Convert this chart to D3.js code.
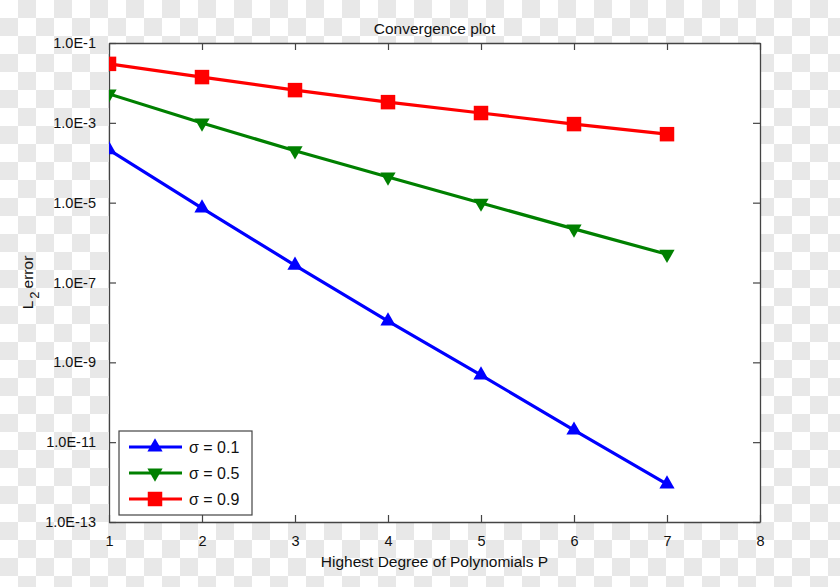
<!DOCTYPE html>
<html>
<head>
<meta charset="utf-8">
<script src="https://cdn.jsdelivr.net/npm/d3@7"></script>
<style>
  html, body { margin: 0; padding: 0; background: #fff; }
  svg { display: block; font-family: "Liberation Sans", Arial, sans-serif; }
</style>
</head>
<body>
<div id="chart"></div>
<script>
// Data
const degrees = [1, 2, 3, 4, 5, 6, 7];
const errSigma01 = [2.1e-4, 7.3e-6, 2.7e-7, 1.08e-8, 4.8e-10, 2.0e-11, 8.9e-13];
const errSigma05 = [5.3e-3, 9.9e-4, 2.0e-4, 4.4e-5, 9.8e-6, 2.2e-6, 5.1e-7];
const errSigma09 = [3.0e-2, 1.4e-2, 6.6e-3, 3.3e-3, 1.76e-3, 9.3e-4, 5.2e-4];
const seriesNames = ["σ = 0.1", "σ = 0.5", "σ = 0.9"];
const xTicks = [1, 2, 3, 4, 5, 6, 7, 8];
const yTicks = [1e-1, 1e-3, 1e-5, 1e-7, 1e-9, 1e-11, 1e-13];

// Layout
const width = 840, height = 587;
const plot = { left: 109, right: 760, top: 43, bottom: 522 };
const axisColor = "#444";

const series = [
  { name: seriesNames[0], values: errSigma01, color: "#0000ff", marker: "up" },
  { name: seriesNames[1], values: errSigma05, color: "#008000", marker: "down" },
  { name: seriesNames[2], values: errSigma09, color: "#ff0000", marker: "square" }
];

const svg = d3.select("#chart").append("svg")
  .attr("width", width)
  .attr("height", height);

// checkerboard background (transparency placeholder in the reference)
const defs = svg.append("defs");
const pat = defs.append("pattern")
  .attr("id", "checker")
  .attr("width", 36).attr("height", 36)
  .attr("patternUnits", "userSpaceOnUse");
pat.append("rect").attr("width", 36).attr("height", 36).attr("fill", "#ffffff");
pat.append("rect").attr("x", 18).attr("y", 0).attr("width", 18).attr("height", 18).attr("fill", "#e8e8e8");
pat.append("rect").attr("x", 0).attr("y", 18).attr("width", 18).attr("height", 18).attr("fill", "#e8e8e8");
svg.append("rect").attr("width", width).attr("height", height).attr("fill", "url(#checker)");

defs.append("clipPath").attr("id", "plotClip")
  .append("rect")
  .attr("x", plot.left).attr("y", plot.top)
  .attr("width", plot.right - plot.left)
  .attr("height", plot.bottom - plot.top);

// Scales
const x = d3.scaleLinear().domain([1, 8]).range([plot.left, plot.right]);
const y = d3.scaleLog().domain([1e-13, 1e-1]).range([plot.bottom, plot.top]);

// plot area
svg.append("rect")
  .attr("x", plot.left).attr("y", plot.top)
  .attr("width", plot.right - plot.left)
  .attr("height", plot.bottom - plot.top)
  .attr("fill", "#fff");

const fmtE = d => "1.0E" + Math.round(Math.log10(d));

// Axes (ticks pointing inward)
const gLeft = svg.append("g")
  .attr("transform", `translate(${plot.left},0)`)
  .call(d3.axisLeft(y).tickValues(yTicks).tickFormat(fmtE)
    .tickSizeInner(-7).tickSizeOuter(0).tickPadding(13));
const gBottom = svg.append("g")
  .attr("transform", `translate(0,${plot.bottom})`)
  .call(d3.axisBottom(x).tickValues(xTicks).tickFormat(d3.format("d"))
    .tickSizeInner(-7).tickSizeOuter(0).tickPadding(14));
const gRight = svg.append("g")
  .attr("transform", `translate(${plot.right},0)`)
  .call(d3.axisRight(y).tickValues(yTicks).tickFormat("")
    .tickSizeInner(-7).tickSizeOuter(0));
const gTop = svg.append("g")
  .attr("transform", `translate(0,${plot.top})`)
  .call(d3.axisTop(x).tickValues(xTicks).tickFormat("")
    .tickSizeInner(-7).tickSizeOuter(0));

[gLeft, gBottom, gRight, gTop].forEach(g => {
  g.select(".domain").attr("stroke", axisColor).attr("stroke-width", 1.3);
  g.selectAll(".tick line").attr("stroke", axisColor).attr("stroke-width", 1.2);
  g.selectAll("text")
    .attr("fill", "#111")
    .style("font-size", "14.5px")
    .style("font-family", '"Liberation Sans", Arial, sans-serif');
});

// Marker helper
function markerPath(kind) {
  if (kind === "square") return d3.symbol().type(d3.symbolSquare).size(210)();
  return d3.symbol().type(d3.symbolTriangle).size(100)();
}
function markerTransform(kind, px, py) {
  return kind === "down" ? `translate(${px},${py}) rotate(180)` : `translate(${px},${py})`;
}

// Lines and markers
const line = d3.line()
  .x((d, i) => x(degrees[i]))
  .y(d => y(d));

const gData = svg.append("g").attr("clip-path", "url(#plotClip)");
series.forEach(s => {
  gData.append("path")
    .datum(s.values)
    .attr("fill", "none")
    .attr("stroke", s.color)
    .attr("stroke-width", 3.2)
    .attr("d", line);
  gData.selectAll(null)
    .data(s.values)
    .enter()
    .append("path")
    .attr("d", markerPath(s.marker))
    .attr("transform", (d, i) => markerTransform(s.marker, x(degrees[i]), y(d)))
    .attr("fill", s.color);
});

// Title and axis labels
svg.append("text")
  .attr("x", (plot.left + plot.right) / 2)
  .attr("y", 34)
  .attr("text-anchor", "middle")
  .style("font-size", "15.5px")
  .attr("fill", "#111")
  .text("Convergence plot");

svg.append("text")
  .attr("x", (plot.left + plot.right) / 2)
  .attr("y", 567)
  .attr("text-anchor", "middle")
  .style("font-size", "15.5px")
  .attr("fill", "#111")
  .text("Highest Degree of Polynomials P");

const yLabel = svg.append("text")
  .attr("transform", `translate(33,${(plot.top + plot.bottom) / 2}) rotate(-90)`)
  .attr("text-anchor", "middle")
  .style("font-size", "15.5px")
  .attr("fill", "#111");
yLabel.append("tspan").text("L");
yLabel.append("tspan").attr("dx", 2).attr("dy", 6).style("font-size", "13px").text("2");
yLabel.append("tspan").attr("dx", 3).attr("dy", -6).text("error");

// Legend
const legend = { x: 119, y: 431, w: 133, h: 84, rowGap: 26 };
svg.append("rect")
  .attr("x", legend.x).attr("y", legend.y)
  .attr("width", legend.w).attr("height", legend.h)
  .attr("fill", "#fff")
  .attr("stroke", axisColor)
  .attr("stroke-width", 1.2);

series.forEach((s, i) => {
  const ly = legend.y + 16 + i * legend.rowGap;
  const g = svg.append("g");
  g.append("line")
    .attr("x1", legend.x + 10).attr("x2", legend.x + 63)
    .attr("y1", ly).attr("y2", ly)
    .attr("stroke", s.color).attr("stroke-width", 3.2);
  g.append("path")
    .attr("d", markerPath(s.marker))
    .attr("transform", markerTransform(s.marker, legend.x + 36, ly))
    .attr("fill", s.color);
  g.append("text")
    .attr("x", legend.x + 70)
    .attr("y", ly)
    .attr("dy", "0.36em")
    .style("font-size", "16px")
    .attr("fill", "#111")
    .text(s.name);
});
</script>
</body>
</html>
